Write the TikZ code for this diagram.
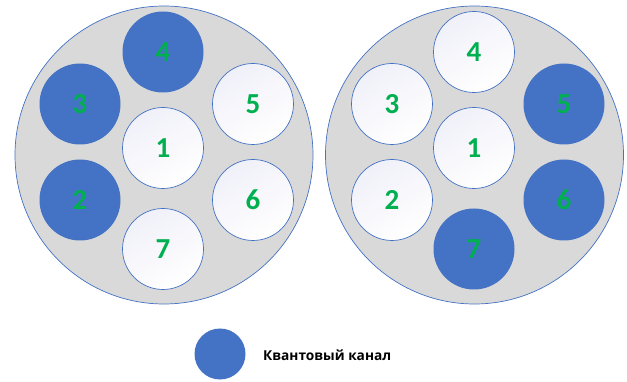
\documentclass[tikz,border=0pt]{standalone}
\usepackage{fontspec}
\setmainfont{Carlito}
\newfontfamily\legendfont{Open Sans}
\definecolor{chblue}{HTML}{4472C4}
\definecolor{numgreen}{HTML}{00B050}
\definecolor{shellgray}{HTML}{D9D9D9}
\definecolor{lav}{HTML}{F0F0F9}
\begin{document}
\begin{tikzpicture}[x=1pt,y=-1pt,
  shell/.style={circle,draw=chblue,line width=0.7pt,fill=shellgray,minimum size=298pt,inner sep=0pt},
  freecore/.style={circle,draw=chblue,line width=0.7pt,top color=lav,bottom color=white,shading angle=30,minimum size=81pt,inner sep=0pt,font=\bfseries\fontsize{29}{29}\selectfont,text=numgreen},
  qcore/.style={circle,fill=chblue,minimum size=81pt,inner sep=0pt,font=\bfseries\fontsize{29}{29}\selectfont,text=numgreen},
  legcore/.style={circle,fill=chblue,minimum size=51pt,inner sep=0pt},
  legtext/.style={font=\legendfont\bfseries\fontsize{13.7}{14}\selectfont,anchor=west,inner sep=0pt}]
\useasboundingbox (0,0) rectangle (627,382);
% left cable
\node[shell] (L) at (164,155) {};
\node[qcore] (L4) at (163,52) {4};
\node[qcore] (L3) at (80,104) {3};
\node[freecore] (L5) at (253,104) {5};
\node[freecore] (L1) at (163,148) {1};
\node[qcore] (L2) at (80,200) {2};
\node[freecore] (L6) at (253,200) {6};
\node[freecore] (L7) at (163,249) {7};
% right cable
\node[shell] (R) at (474.5,155) {};
\node[freecore] (R4) at (474,52) {4};
\node[freecore] (R3) at (392,104) {3};
\node[qcore] (R5) at (564,104) {5};
\node[freecore] (R1) at (474,148) {1};
\node[freecore] (R2) at (392,200) {2};
\node[qcore] (R6) at (564,200) {6};
\node[qcore] (R7) at (474,249) {7};
% legend
\node[legcore] (Leg) at (220,354) {};
\node[legtext] (LegT) at (263,355) {Квантовый канал};
\end{tikzpicture}
\end{document}
